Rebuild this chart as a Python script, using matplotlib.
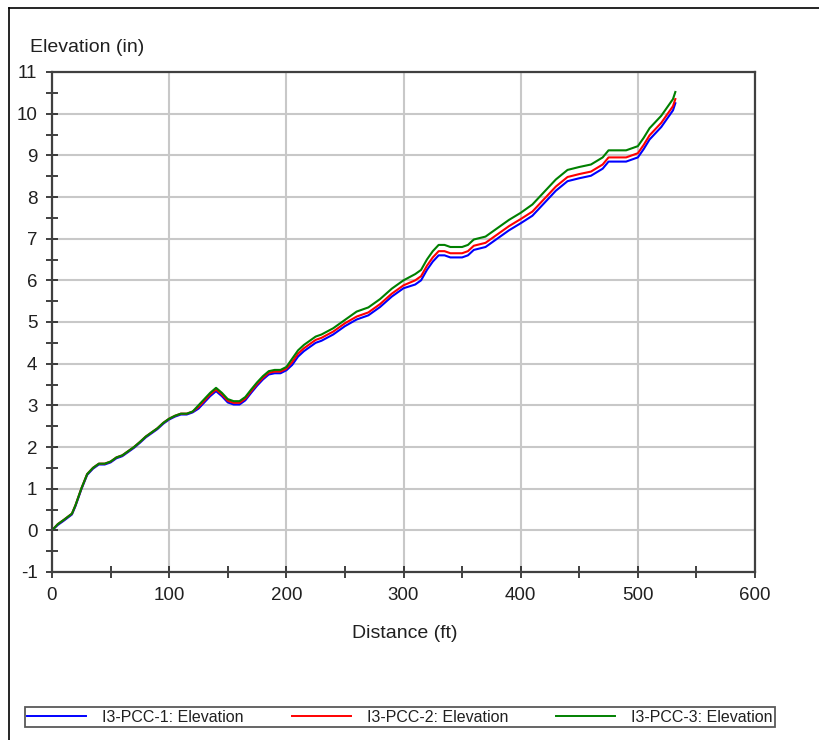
import matplotlib
matplotlib.use("Agg")
import matplotlib.pyplot as plt
from matplotlib.lines import Line2D
from matplotlib.ticker import MultipleLocator

distance = [0, 5, 10, 17, 20, 25, 30, 35, 40, 45, 50, 55, 60, 65, 70, 75, 80, 85, 90, 95,
            100, 105, 110, 115, 120, 125, 130, 135, 140, 145, 150, 155, 160, 165, 170, 175,
            180, 185, 190, 195, 200, 205, 210, 215, 220, 225, 230, 240, 250, 260, 270, 280,
            290, 300, 310, 315, 320, 325, 330, 335, 340, 350, 355, 360, 370, 380, 390, 400,
            410, 420, 430, 440, 450, 460, 470, 475, 480, 490, 500, 505, 510, 520, 530, 532]

pcc1 = [0, 0.13, 0.23, 0.38, 0.58, 0.98, 1.33, 1.48, 1.58, 1.58, 1.63, 1.73, 1.78, 1.88, 1.98,
        2.10, 2.23, 2.33, 2.43, 2.56, 2.66, 2.73, 2.78, 2.78, 2.83,
        2.92, 3.07, 3.22, 3.34, 3.22, 3.07, 3.02, 3.02, 3.12, 3.30, 3.47, 3.62, 3.74, 3.77, 3.77, 3.84,
        3.97, 4.17, 4.30, 4.40, 4.50, 4.55, 4.70, 4.90, 5.06, 5.16, 5.36, 5.61, 5.81,
        5.90, 6.00, 6.25, 6.45, 6.60, 6.60, 6.55, 6.55, 6.60, 6.73, 6.80, 7.00, 7.20, 7.37,
        7.55, 7.85, 8.15, 8.38, 8.45, 8.51, 8.68, 8.85, 8.85, 8.85, 8.95, 9.15, 9.38, 9.68, 10.08, 10.25]

pcc2 = [0, 0.15, 0.25, 0.40, 0.60, 1.00, 1.35, 1.50, 1.60, 1.60, 1.65, 1.75, 1.80, 1.90, 2.00,
        2.12, 2.25, 2.35, 2.45, 2.58, 2.68, 2.75, 2.80, 2.80, 2.85,
        2.96, 3.11, 3.26, 3.38, 3.26, 3.11, 3.06, 3.06, 3.16, 3.34, 3.51, 3.66, 3.78, 3.81, 3.81, 3.88,
        4.04, 4.24, 4.37, 4.47, 4.57, 4.62, 4.77, 4.97, 5.13, 5.23, 5.43, 5.68, 5.88,
        6.00, 6.10, 6.35, 6.55, 6.70, 6.70, 6.65, 6.65, 6.70, 6.83, 6.90, 7.10, 7.30, 7.47,
        7.65, 7.95, 8.25, 8.48, 8.55, 8.61, 8.78, 8.95, 8.95, 8.95, 9.05, 9.25, 9.48, 9.78, 10.18, 10.35]

pcc3 = [0, 0.15, 0.25, 0.40, 0.60, 1.00, 1.35, 1.50, 1.60, 1.60, 1.65, 1.75, 1.80, 1.90, 2.00,
        2.12, 2.25, 2.35, 2.45, 2.58, 2.68, 2.75, 2.80, 2.80, 2.85,
        3.00, 3.15, 3.30, 3.42, 3.30, 3.15, 3.10, 3.10, 3.20, 3.38, 3.55, 3.70, 3.82, 3.85, 3.85, 3.92,
        4.12, 4.32, 4.45, 4.55, 4.65, 4.70, 4.85, 5.05, 5.25, 5.35, 5.55, 5.80, 6.00,
        6.15, 6.25, 6.50, 6.70, 6.85, 6.85, 6.80, 6.80, 6.85, 6.98, 7.05, 7.25, 7.45, 7.62,
        7.82, 8.12, 8.42, 8.65, 8.72, 8.78, 8.95, 9.12, 9.12, 9.12, 9.22, 9.42, 9.65, 9.95, 10.35, 10.52]

labels = ["I3-PCC-1: Elevation", "I3-PCC-2: Elevation", "I3-PCC-3: Elevation"]
colors = ["#0000ff", "#ff0000", "#008000"]

plt.rcParams['font.family'] = ['Liberation Sans', 'DejaVu Sans']
plt.rcParams['axes.unicode_minus'] = False

fig = plt.figure(figsize=(8.2, 7.4), dpi=100, facecolor="white")
W, H = 820, 740
ax = fig.add_axes([52 / W, 1 - 572 / H, (755 - 52) / W, (572 - 72) / H])

for ys, c, lab in zip([pcc1, pcc2, pcc3], colors, labels):
    ax.plot(distance, ys, color=c, lw=1.5, label=lab)

ax.set_xlim(0, 600)
ax.set_ylim(-1, 11)
ax.xaxis.set_major_locator(MultipleLocator(100))
ax.xaxis.set_minor_locator(MultipleLocator(50))
ax.yaxis.set_major_locator(MultipleLocator(1))
ax.yaxis.set_minor_locator(MultipleLocator(0.5))
ax.grid(True, which="major", color="#c8c8c8", lw=1.5)
ax.set_axisbelow(True)
for s in ax.spines.values():
    s.set_color("#404040")
    s.set_linewidth(1.6)
ax.tick_params(which="both", direction="inout", color="#202020", width=1.2,
               labelsize=13.5, top=False, right=False, labelcolor="#202020")
ax.tick_params(which="major", length=9, pad=6)
ax.tick_params(which="minor", length=9)

fig.text(30 / W, 1 - 48 / H, "Elevation (in)", fontsize=14, ha="left", va="center",
         color="#202020")
fig.text(405 / W, 1 - 633 / H, "Distance (ft)", fontsize=14, ha="center", va="center",
         color="#202020")

leg = fig.legend(loc="lower left", bbox_to_anchor=(25 / W, 1 - 727 / H, 750 / W, 21 / H),
                 mode="expand", ncol=3, fontsize=11.5, frameon=True, fancybox=False,
                 handlelength=3.7, handletextpad=1.0, borderpad=0.15, borderaxespad=0,
                 labelcolor="#202020")
leg.get_frame().set_edgecolor("#303030")
leg.get_frame().set_linewidth(1.3)
for l in leg.get_lines():
    l.set_linewidth(1.4)

fig.add_artist(Line2D([9 / W, 9 / W], [0, 1 - 8 / H], color="black", lw=1.2))
fig.add_artist(Line2D([9 / W, 1], [1 - 8 / H, 1 - 8 / H], color="black", lw=1.2))

fig.savefig("out.png", dpi=100, facecolor="white")
